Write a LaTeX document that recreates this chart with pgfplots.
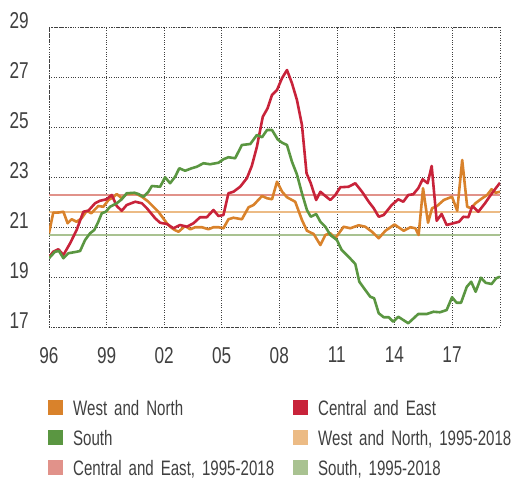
\documentclass[border=0pt]{standalone}
\usepackage{fontspec}
\setmainfont{Liberation Sans}[FakeStretch=0.75]
\newfontfamily\legfont{Liberation Sans}[FakeStretch=0.72]
\usepackage{pgfplots}
\pgfplotsset{compat=1.18}
\definecolor{cWN}{RGB}{217,130,43}
\definecolor{cCE}{RGB}{200,35,58}
\definecolor{cS}{RGB}{90,150,65}
\definecolor{aWN}{RGB}{236,187,133}
\definecolor{aCE}{RGB}{225,146,138}
\definecolor{aS}{RGB}{169,194,145}
\definecolor{txt}{RGB}{64,64,64}
\begin{document}
\begin{tikzpicture}
\useasboundingbox (-49bp,-152bp) rectangle (464bp,327bp);
\begin{axis}[
  at={(0,0)}, anchor=south west,
  scale only axis, width=451bp, height=300bp,
  xmin=1996, xmax=2019.5, ymin=17, ymax=29,
  xtick={1996,1999,...,2017},
  xticklabels={96,99,02,05,08,11,14,17},
  ytick={17,19,...,29},
  grid=major,
  grid style={dotted, black!75, line width=0.6pt},
  axis line style={dotted, black!75, line width=0.6pt},
  major tick length=0pt,
  /pgf/number format/assume math mode=true,
  tick label style={font=\fontsize{23}{23}\selectfont, text=txt},
  yticklabel style={anchor=base east, inner sep=0pt, xshift=-20bp, yshift=-1.5bp},
  xticklabel style={anchor=north, inner sep=0pt, yshift=-20bp},
  legend columns=2,
  legend cell align=left,
  legend style={at={(0,0)}, anchor=north west, xshift=-1bp, yshift=-71bp,
    draw=none, fill=none, inner sep=0pt, row sep=0bp, column sep=0bp,
    font=\legfont\fontsize{21}{21}\selectfont, text=txt,
    nodes={inner sep=0pt, text width=220bp, text height=17bp, text depth=13bp, anchor=base west}},
  legend image code/.code={\path[draw=none,fill=none] (0bp,0bp) -- (25bp,0bp); \fill[#1, draw=none] (0bp,0bp) rectangle (15bp,15bp);},
  every axis plot/.append style={line join=round},
]
% averages 1995-2018
\addplot[aCE, line width=1.8bp, forget plot] coordinates {(1996,22.29) (2019.5,22.29)};
\addplot[aWN, line width=1.8bp, forget plot] coordinates {(1996,21.59) (2019.5,21.59)};
\addplot[aS, line width=1.8bp, forget plot] coordinates {(1996,20.69) (2019.5,20.69)};
% West and North
\addplot[color=cWN, line width=2.6bp] coordinates {
(1996.0,20.75) (1996.22,21.57) (1996.5,21.58) (1996.75,21.61) (1996.97,21.15)
(1997.18,21.31) (1997.44,21.21) (1997.7,21.35) (1997.97,21.65) (1998.2,21.55)
(1998.57,21.84) (1998.83,21.81) (1999.1,22.08) (1999.35,22.19) (1999.53,22.32)
(1999.79,22.15) (2000.05,22.32) (2000.49,22.35) (2000.84,22.21) (2001.18,22.01)
(2001.45,21.8) (2001.7,21.61) (2001.95,21.35) (2002.14,21.15) (2002.31,21.01)
(2002.55,20.88) (2002.75,20.81) (2003.09,21.04) (2003.36,20.91) (2003.62,20.99)
(2003.97,20.99) (2004.31,20.91) (2004.57,20.99) (2004.83,20.99) (2005.09,20.95)
(2005.35,21.31) (2005.61,21.37) (2006.05,21.31) (2006.4,21.79) (2006.66,21.88)
(2007.1,22.24) (2007.36,22.15) (2007.62,22.11) (2007.88,22.81) (2008.15,22.41)
(2008.4,22.19) (2008.83,22.01) (2009.18,21.28) (2009.44,20.85) (2009.79,20.72)
(2010.14,20.28) (2010.4,20.68) (2010.66,20.75) (2010.92,20.55) (2011.35,21.01)
(2011.7,20.95) (2012.14,21.07) (2012.48,21.01) (2012.83,20.81) (2013.18,20.55)
(2013.53,20.85) (2014.0,21.1) (2014.48,20.85) (2014.83,20.99) (2015.09,20.95)
(2015.26,20.68) (2015.49,22.55) (2015.75,21.17) (2015.96,21.75) (2016.22,21.84)
(2016.57,22.08) (2017.0,22.21) (2017.27,21.65) (2017.53,23.68) (2017.79,21.81)
(2018.0,21.75) (2018.22,21.95) (2018.57,22.15) (2018.83,22.28) (2019.06,22.51)
(2019.27,22.37) (2019.5,22.41)};
\addlegendentry{West and North}
% Central and East
\addplot[color=cCE, line width=2.6bp] coordinates {
(1996.0,19.79) (1996.22,20.01) (1996.49,20.11) (1996.75,19.88) (1997.1,20.35)
(1997.44,20.88) (1997.79,21.61) (1998.05,21.65) (1998.4,21.95) (1998.66,22.05)
(1999.0,22.11) (1999.27,22.28) (1999.53,21.84) (1999.79,21.65) (2000.05,21.88)
(2000.49,22.01) (2000.84,21.95) (2001.1,21.75) (2001.53,21.35) (2001.79,21.17)
(2002.14,21.12) (2002.49,20.95) (2002.83,21.08) (2003.18,21.01) (2003.53,21.15)
(2003.87,21.39) (2004.22,21.39) (2004.57,21.68) (2004.83,21.44) (2005.09,21.48)
(2005.35,22.35) (2005.61,22.41) (2005.96,22.61) (2006.31,22.95) (2006.57,23.45)
(2006.83,24.2) (2007.14,25.41) (2007.39,25.75) (2007.62,26.28) (2007.88,26.48)
(2008.14,26.95) (2008.4,27.28) (2008.66,26.75) (2008.92,26.08) (2009.18,25.08)
(2009.42,23.15) (2009.64,22.75) (2009.92,22.08) (2010.14,22.41) (2010.4,22.24)
(2010.66,22.08) (2010.92,22.28) (2011.18,22.59) (2011.61,22.61) (2011.96,22.75)
(2012.31,22.41) (2012.66,22.01) (2012.92,21.75) (2013.18,21.41) (2013.44,21.48)
(2013.86,21.88) (2014.2,22.11) (2014.46,22.01) (2014.72,22.28) (2014.98,22.31)
(2015.24,22.55) (2015.47,22.91) (2015.73,22.75) (2015.94,23.44) (2016.2,21.25)
(2016.46,21.52) (2016.72,21.08) (2017.07,21.15) (2017.37,21.21) (2017.59,21.41)
(2017.85,21.39) (2018.06,21.84) (2018.37,21.61) (2018.72,21.95) (2018.98,22.24)
(2019.24,22.51) (2019.5,22.77)};
\addlegendentry{Central and East}
% South
\addplot[color=cS, line width=2.6bp] coordinates {
(1996.0,19.75) (1996.31,20.01) (1996.52,20.04) (1996.75,19.75) (1997.01,19.95)
(1997.44,20.01) (1997.62,20.04) (1997.88,20.48) (1998.14,20.75) (1998.36,20.88)
(1998.57,21.21) (1998.75,21.55) (1998.96,21.61) (1999.18,21.81) (1999.53,21.95)
(1999.79,22.11) (2000.05,22.35) (2000.45,22.37) (2000.66,22.32) (2000.92,22.21)
(2001.18,22.41) (2001.36,22.64) (2001.79,22.61) (2002.05,22.99) (2002.31,22.75)
(2002.57,23.01) (2002.79,23.35) (2003.09,23.25) (2003.44,23.35) (2003.7,23.41)
(2004.05,23.55) (2004.39,23.51) (2004.83,23.57) (2005.09,23.71) (2005.35,23.79)
(2005.7,23.75) (2006.05,24.28) (2006.49,24.32) (2006.83,24.68) (2007.1,24.59)
(2007.36,24.88) (2007.62,24.88) (2007.92,24.5) (2008.15,24.37) (2008.4,24.28)
(2008.66,23.61) (2008.92,23.1) (2009.18,22.35) (2009.44,21.68) (2009.64,21.41)
(2009.92,21.52) (2010.14,21.21) (2010.4,21.01) (2010.66,20.68) (2011.0,20.48)
(2011.25,20.08) (2011.61,19.81) (2011.96,19.52) (2012.17,18.81) (2012.48,18.48)
(2012.74,18.21) (2012.94,18.15) (2013.18,17.55) (2013.44,17.39) (2013.7,17.39)
(2013.94,17.21) (2014.2,17.41) (2014.72,17.15) (2015.24,17.52) (2015.68,17.52)
(2016.03,17.61) (2016.37,17.59) (2016.72,17.68) (2017.0,18.19) (2017.24,17.97)
(2017.47,17.97) (2017.77,18.61) (2018.0,18.81) (2018.23,18.41) (2018.51,18.97)
(2018.75,18.77) (2019.06,18.72) (2019.3,18.95) (2019.5,19.01)};
\addlegendentry{South}
\addlegendimage{color=aWN}
\addlegendentry{West and North, 1995-2018}
\addlegendimage{color=aCE}
\addlegendentry{Central and East, 1995-2018}
\addlegendimage{color=aS}
\addlegendentry{South, 1995-2018}
\end{axis}
\end{tikzpicture}
\end{document}
